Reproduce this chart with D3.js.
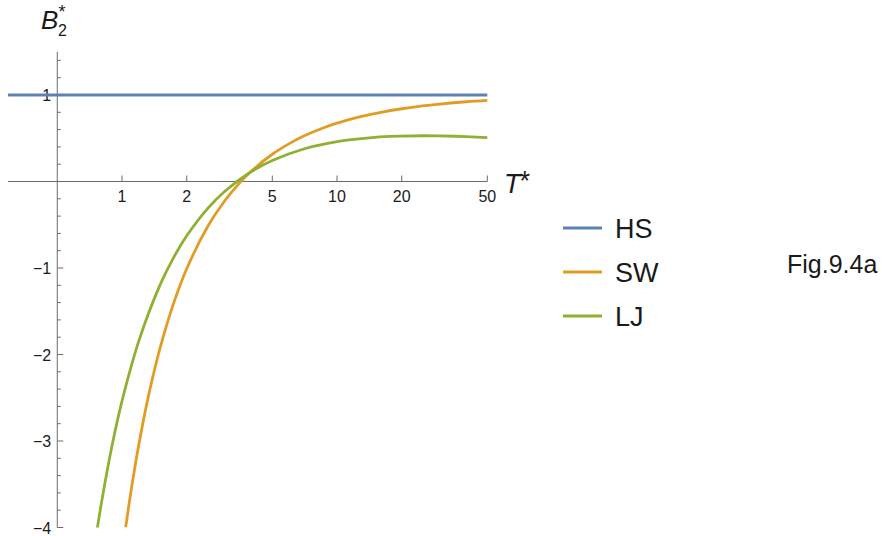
<!DOCTYPE html>
<html>
<head>
<meta charset="utf-8">
<script src="https://cdn.jsdelivr.net/npm/d3@7"></script>
<style>
  html, body { margin: 0; padding: 0; background: #fff; }
  svg { display: block; font-family: "Liberation Sans", Arial, sans-serif; }
</style>
</head>
<body>
<svg id="chart" width="882" height="536"></svg>
<script>
// ---- data ----
const seriesNames = ["HS", "SW", "LJ"];
const seriesColors = ["#5E81B5", "#E19C24", "#8FB032"];

const hsT = [0.295, 50];
const hsB = [1, 1];

const swT = [1.04, 1.1, 1.2, 1.35, 1.5, 1.75, 2, 2.5, 3, 3.5, 4, 5, 6, 7, 8.5, 10, 13, 16, 20, 25, 30, 40, 50];
const swB = [-4.0, -3.588, -3.028, -2.398, -1.934, -1.386, -1.008, -0.523, -0.225, -0.024, 0.121, 0.315, 0.438, 0.525, 0.613, 0.674, 0.752, 0.800, 0.841, 0.874, 0.895, 0.922, 0.938];

const ljT = [0.765, 0.8, 0.9, 1.0, 1.2, 1.5, 1.75, 2.0, 2.5, 3.0, 4.0, 5.0, 7.0, 10, 15, 20, 25, 30, 40, 50];
const ljB = [-4.035, -3.734, -3.047, -2.538, -1.836, -1.201, -0.866, -0.628, -0.313, -0.115, 0.115, 0.243, 0.376, 0.461, 0.511, 0.525, 0.529, 0.527, 0.519, 0.508];

const xTicks = [1, 2, 5, 10, 20, 50];
const xTickLabels = ["1", "2", "5", "10", "20", "50"];
const yTicks = [-4, -3, -2, -1, 1];
const yTickLabels = ["\u22124", "\u22123", "\u22122", "\u22121", "1"];
const figLabel = "Fig.9.4a";

// ---- scales ----
const svg = d3.select("#chart");
const x = d3.scaleLog().domain([0.295, 50]).range([8, 487.3]);
const y = d3.scaleLinear().domain([-4, 1.5]).range([527.5, 51.75]);
const axisX = 0.5;   // y-axis crosses at T = 0.5
const axisY = 0;     // x-axis crosses at B = 0

const axisColor = "#6b6b6b";
const labelColor = "#1a1a1a";

// clip
svg.append("clipPath").attr("id", "clip")
  .append("rect").attr("x", 0).attr("y", y(1.5)).attr("width", x(50) + 2).attr("height", y(-4) - y(1.5));

// ---- x axis ----
const gx = svg.append("g");
gx.append("line")
  .attr("x1", x(0.295)).attr("x2", x(50))
  .attr("y1", y(axisY)).attr("y2", y(axisY))
  .attr("stroke", axisColor).attr("stroke-width", 1);
xTicks.forEach((t, i) => {
  gx.append("line")
    .attr("x1", x(t)).attr("x2", x(t))
    .attr("y1", y(axisY)).attr("y2", y(axisY) - 6)
    .attr("stroke", axisColor).attr("stroke-width", 1);
  gx.append("text")
    .attr("x", x(t)).attr("y", y(axisY) + 20)
    .attr("text-anchor", "middle")
    .attr("font-size", 16).attr("fill", labelColor)
    .text(xTickLabels[i]);
});

// ---- y axis ----
const gy = svg.append("g");
gy.append("line")
  .attr("x1", x(axisX)).attr("x2", x(axisX))
  .attr("y1", y(1.5)).attr("y2", y(-4))
  .attr("stroke", axisColor).attr("stroke-width", 1);
const minorY = d3.range(-40, 15, 2).map(v => v / 10).filter(v => Math.abs(v - Math.round(v)) > 1e-9);
minorY.forEach(v => {
  gy.append("line")
    .attr("x1", x(axisX)).attr("x2", x(axisX) + 3.5)
    .attr("y1", y(v)).attr("y2", y(v))
    .attr("stroke", axisColor).attr("stroke-width", 1);
});
yTicks.forEach((t, i) => {
  gy.append("line")
    .attr("x1", x(axisX)).attr("x2", x(axisX) + 6)
    .attr("y1", y(t)).attr("y2", y(t))
    .attr("stroke", axisColor).attr("stroke-width", 1);
  gy.append("text")
    .attr("x", x(axisX) - 6).attr("y", y(t) + 6)
    .attr("text-anchor", "end")
    .attr("font-size", 16).attr("fill", labelColor)
    .text(yTickLabels[i]);
});

// ---- axis titles ----
const bt = svg.append("g");
bt.append("text").attr("x", 41).attr("y", 29)
  .attr("font-size", 26).attr("font-style", "italic").attr("fill", labelColor).text("B");
bt.append("text").attr("x", 58).attr("y", 36)
  .attr("font-size", 16).attr("fill", labelColor).text("2");
bt.append("text").attr("x", 58.5).attr("y", 18)
  .attr("font-size", 18).attr("fill", labelColor).text("*");

const tt = svg.append("g");
tt.append("text").attr("x", 504).attr("y", 193)
  .attr("font-size", 27).attr("font-style", "italic").attr("fill", labelColor).text("T");
tt.append("text").attr("x", 519.5).attr("y", 190)
  .attr("font-size", 27).attr("fill", labelColor).text("*");

// ---- curves ----
const line = d3.line()
  .x(d => x(d[0])).y(d => y(d[1]))
  .curve(d3.curveCatmullRom.alpha(0.5));

const series = [
  d3.zip(hsT, hsB),
  d3.zip(swT, swB),
  d3.zip(ljT, ljB)
];

const gc = svg.append("g").attr("clip-path", "url(#clip)");
series.forEach((s, i) => {
  gc.append("path")
    .datum(s)
    .attr("d", line)
    .attr("fill", "none")
    .attr("stroke", seriesColors[i])
    .attr("stroke-width", 2.8)
    .attr("stroke-linejoin", "round");
});

// ---- legend ----
const legY = [228, 272, 316];
const gl = svg.append("g");
seriesNames.forEach((n, i) => {
  gl.append("line")
    .attr("x1", 563).attr("x2", 602)
    .attr("y1", legY[i]).attr("y2", legY[i])
    .attr("stroke", seriesColors[i]).attr("stroke-width", 2.8);
  gl.append("text")
    .attr("x", 615).attr("y", legY[i] + 10)
    .attr("font-size", 27).attr("fill", labelColor)
    .text(n);
});

svg.append("text").attr("x", 787).attr("y", 273)
  .attr("font-size", 25).attr("fill", labelColor).text(figLabel);
</script>
</body>
</html>
